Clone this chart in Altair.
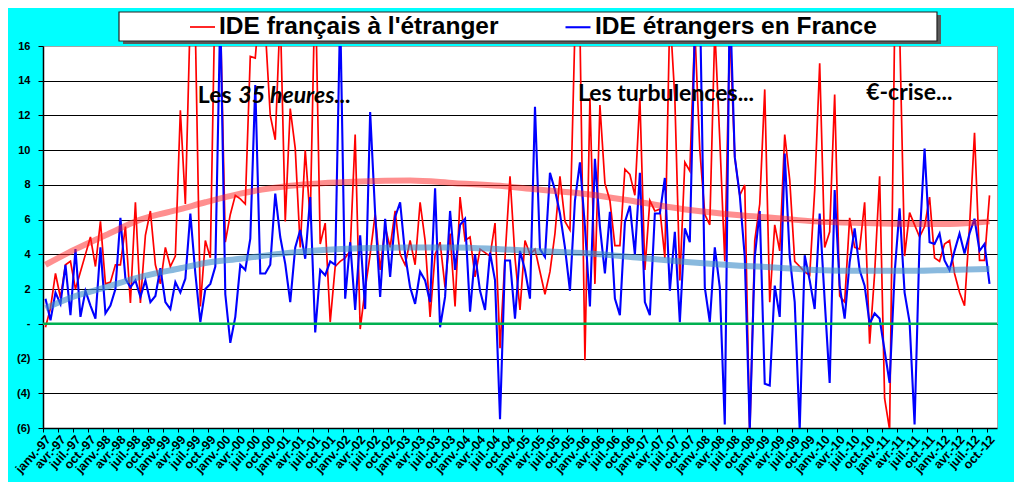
import json
import altair as alt
import pandas as pd

# ---------------- données ----------------
series = ["IDE français à l'étranger", "IDE étrangers en France"]

ide_fr = [
    -0.2, 0.9, 2.9, 1.5, 3.4, 3.6, 2.0, 3.0, 4.0, 5.0, 3.3, 5.9,          # 1997
    2.3, 2.4, 3.4, 3.4, 5.6, 1.2, 7.0, 1.2, 5.1, 6.5, 3.4, 2.3,           # 1998
    4.4, 3.3, 3.9, 12.3, 6.9, 18.0, 17.0, 1.0, 4.8, 3.8, 20.0, 18.0,      # 1999
    4.7, 6.3, 7.4, 7.2, 6.9, 15.4, 15.3, 19.0, 17.0, 12.0, 10.6, 18.0,    # 2000
    5.9, 12.4, 10.1, 4.4, 10.0, 6.0, 20.0, 4.6, 5.8, 0.1, 3.3, 3.6,       # 2001
    3.8, 4.2, 10.9, -0.3, 2.0, 4.0, 6.3, 3.1, 5.6, 4.4, 6.5, 4.0,         # 2002
    3.4, 4.8, 3.4, 7.0, 4.8, 0.4, 4.0, 4.7, 2.1, 5.2, 1.0, 7.3,           # 2003
    4.8, 5.0, 2.7, 4.3, 4.1, 3.9, 5.8, -1.4, 3.8, 8.5, 3.8, 0.8,          # 2004
    4.8, 4.0, 4.3, 3.0, 1.7, 3.0, 5.2, 8.5, 5.9, 5.4, 17.0, 17.0,         # 2005
    -2.1, 13.0, 2.3, 12.6, 8.1, 7.1, 4.5, 4.5, 8.9, 8.6, 7.4, 13.0,       # 2006
    3.1, 7.1, 6.5, 6.6, 3.8, 18.0, 13.0, 2.5, 9.3, 8.8, 17.0, 10.0,       # 2007
    6.3, 5.7, 17.0, 10.6, 3.6, 17.0, 9.6, 7.4, 8.0, -6.5, 4.8, 6.9,       # 2008
    13.5, 1.25, 5.7, 4.2, 10.9, 8.3, 3.6, 3.3, 3.0, 2.8, 7.7, 15.0,       # 2009
    4.4, 5.3, 13.2, 1.6, 1.25, 6.1, 4.4, 4.3, 7.0, -1.15, 2.9, 8.5,       # 2010
    -4.3, -6.1, 17.0, 17.0, 3.9, 6.4, 5.7, 5.0, 5.6, 7.3, 3.8, 3.6,       # 2011
    4.6, 4.8, 2.9, 1.8, 1.05, 5.6, 11.0, 3.65, 3.65, 7.4,                 # 2012
]

ide_etr = [
    1.45, 0.2, 1.8, 1.15, 3.4, 0.5, 4.3, 0.4, 1.9, 1.05, 0.3, 4.4,        # 1997
    0.6, 1.05, 2.0, 6.1, 2.6, 2.1, 2.5, 1.55, 2.5, 1.25, 1.6, 3.2,        # 1998
    1.25, 0.85, 2.4, 1.8, 2.6, 6.35, 2.9, 0.1, 2.0, 2.3, 3.3, 18.0,       # 1999
    1.7, -1.1, 0.4, 3.4, 3.1, 4.9, 13.75, 2.9, 2.9, 3.4, 7.5, 5.0,        # 2000
    3.45, 1.25, 4.4, 5.4, 3.75, 7.3, -0.5, 3.1, 2.8, 3.6, 3.4, 18.0,      # 2001
    1.45, 4.7, 0.8, 5.1, 0.85, 12.2, 6.35, 1.55, 6.05, 2.7, 6.15, 7.0,    # 2002
    4.0, 2.1, 1.15, 3.0, 2.5, 1.25, 7.8, -0.2, 1.55, 6.5, 3.1, 5.7,       # 2003
    6.05, 0.7, 4.0, 1.9, 0.8, 4.1, 2.5, -5.5, 3.65, 3.65, 0.3, 4.2,       # 2004
    3.1, 1.45, 12.5, 4.3, 3.85, 8.7, 7.7, 6.35, 4.4, 1.9, 7.1, 9.3,       # 2005
    5.6, 1.0, 9.5, 5.6, 2.9, 6.45, 1.45, 0.5, 5.85, 6.8, 4.0, 8.7,        # 2006
    1.25, 0.5, 6.35, 6.35, 8.4, 1.9, 5.3, 0.1, 5.5, 4.7, 17.0, 19.0,      # 2007
    2.1, 0.1, 4.4, 2.1, -5.8, 19.0, 9.6, 7.4, 3.85, -6.1, 3.85, 6.5,      # 2008
    -3.45, -3.55, 2.2, 0.4, 9.8, 3.85, 1.25, -6.1, 3.95, 2.5, 0.85, 6.35, # 2009
    1.35, -3.4, 7.7, 2.2, 0.3, 3.55, 5.5, 3.1, 2.2, 0.0, 0.6, 0.3,        # 2010
    -1.55, -3.4, 2.9, 6.65, 1.8, 0.1, -5.8, 4.8, 10.1, 4.7, 4.6, 5.2,     # 2011
    3.65, 3.1, 4.2, 5.2, 4.05, 5.2, 6.05, 4.2, 4.6, 2.3,                  # 2012
]

# courbes de tendance
tendance_mois = [0, 6, 12, 19, 27, 32, 39, 49, 63, 73, 82, 91, 98, 109, 119,
                 129, 139, 146, 154, 164, 174, 181, 189]
tendance_fr = [3.4, 4.3, 5.1, 6.0, 6.6, 7.0, 7.5, 7.95, 8.2, 8.25, 8.1, 7.95,
               7.75, 7.45, 7.0, 6.55, 6.25, 6.1, 5.9, 5.8, 5.75, 5.75, 5.9]
tendance_etr = [0.9, 1.6, 2.1, 2.7, 3.2, 3.5, 3.75, 4.1, 4.35, 4.4, 4.4, 4.3,
                4.2, 4.05, 3.8, 3.55, 3.35, 3.25, 3.1, 3.05, 3.05, 3.1, 3.15]

# étiquettes de l'axe des abscisses
mois_labels = ["janv.", "avr.", "juil.", "oct."]
annees = ["97", "98", "99", "00", "01", "02", "03", "04", "05", "06", "07",
          "08", "09", "10", "11", "12"]
tick_labels = [f"{m}-{a}" for a in annees for m in mois_labels]

# annotations
annot_text = ["Les", "35 heures...", "Les turbulences...", "€-crise..."]
annot_mois = [30.5, 38.6, 106.6, 164.3]
annot_val = [13.1, 13.1, 13.25, 13.3]
annot_italic = [False, True, False, False]

# ---------------- construction ----------------
n = len(ide_fr)
n_cat = n + 1  # axe de janv.-97 à nov.-12

df = pd.DataFrame({
    "mois": list(range(n)) * 2,
    "valeur": ide_fr + ide_etr,
    "serie": [series[0]] * n + [series[1]] * n,
})
df_tr_fr = pd.DataFrame({"mois": tendance_mois, "valeur": tendance_fr})
df_tr_etr = pd.DataFrame({"mois": tendance_mois, "valeur": tendance_etr})
df_zero = pd.DataFrame({"valeur": [0]})
df_annot = pd.DataFrame({"mois": annot_mois, "valeur": annot_val,
                         "texte": annot_text, "italique": annot_italic})
df_one = pd.DataFrame({"a": [0]})

FONT = "Liberation Sans, Arial, sans-serif"

x_enc = alt.X(
    "mois:Q",
    scale=alt.Scale(domain=[-0.5, n_cat - 0.5], nice=False, zero=False),
    axis=alt.Axis(
        title=None,
        values=[3 * k - 0.5 for k in range(len(tick_labels))],
        labelExpr=json.dumps(tick_labels, ensure_ascii=False) + "[round((datum.value + 0.5) / 3)]",
        labelAngle=-48, labelAlign="right", labelBaseline="middle",
        labelFontSize=12.5, labelOffset=5, labelPadding=5, tickSize=4,
        labelOverlap=False, grid=False, labelFlush=False,
    ),
)
y_enc = alt.Y(
    "valeur:Q",
    scale=alt.Scale(domain=[-6, 16], nice=False, zero=False),
    axis=alt.Axis(
        title=None,
        values=list(range(-6, 17, 2)),
        labelExpr="datum.value < 0 ? '(' + abs(datum.value) + ')' : (datum.value == 0 ? '-' : '' + datum.value)",
        labelFontSize=11, tickSize=5, labelPadding=8,
        grid=True, gridColor="#000000", gridWidth=1,
        gridOpacity={"condition": {"test": "datum.value === 16 || datum.value === -6", "value": 0}, "value": 1},
    ),
)

lines = alt.Chart(df).mark_line(clip=True).encode(
    x=x_enc, y=y_enc,
    color=alt.Color(
        "serie:N",
        scale=alt.Scale(domain=series, range=["#FF0000", "#0000FF"]),
        sort=series,
        legend=alt.Legend(
            title=None, orient="none", legendX=146, legendY=-33,
            direction="horizontal", symbolType="stroke", symbolSize=625,
            symbolStrokeWidth=2, labelFont=FONT, labelFontSize=24.5,
            labelFontWeight="bold", labelColor="#000000", labelLimit=0,
            columnPadding=62, labelOffset=3, padding=0, zindex=5,
        ),
    ),
    strokeWidth=alt.StrokeWidth("serie:N", scale=alt.Scale(domain=series, range=[1.7, 2.1]), legend=None),
    detail="serie:N",
)

zero = alt.Chart(df_zero).mark_rule(color="#00B050", strokeWidth=2.5).encode(y=y_enc)

tr_fr = alt.Chart(df_tr_fr).mark_line(
    color="#FF2020", strokeWidth=6, opacity=0.5, interpolate="monotone", clip=True
).encode(x=x_enc, y=y_enc)
tr_etr = alt.Chart(df_tr_etr).mark_line(
    color="#3A8AC8", strokeWidth=6, opacity=0.6, interpolate="monotone", clip=True
).encode(x=x_enc, y=y_enc)

ann_normal = alt.Chart(df_annot).transform_filter("!datum.italique").mark_text(
    font="Lato", fontSize=23, fontWeight="bold", align="left", baseline="middle", color="#000000"
).encode(x=x_enc, y=y_enc, text="texte:N")
ann_ital = alt.Chart(df_annot).transform_filter("datum.italique").mark_text(
    font="Lato", fontSize=23, fontWeight="bold", fontStyle="italic", align="left",
    baseline="middle", color="#000000"
).encode(x=x_enc, y=y_enc, text="texte:N")

# cadre de la légende (ombre + boîte)
shadow = alt.Chart(df_one).mark_rect(fill="#5a5a5a").encode(
    x=alt.value(80), x2=alt.value(898), y=alt.value(-31), y2=alt.value(-2))
box = alt.Chart(df_one).mark_rect(fill="#FFFFFF", stroke="#222222", strokeWidth=1.2).encode(
    x=alt.value(76), x2=alt.value(894), y=alt.value(-34), y2=alt.value(-5))

chart = alt.layer(
    shadow, box, lines, zero, tr_fr, tr_etr, ann_normal, ann_ital
).properties(
    width=954, height=382,
    padding={"left": 35, "top": 38, "right": 17, "bottom": 54},
    autosize=alt.AutoSizeParams(type="none"),
    background="#00FFFF",
).configure_view(
    fill="#FFFFFF", stroke="#a6a6a6", strokeWidth=1
).configure_axis(
    labelFont=FONT, labelFontWeight="bold", labelColor="#000000",
    domainColor="#000000", domainWidth=1.5, tickColor="#000000", tickWidth=1,
)

chart.save("out.html", embed_options={"renderer": "svg", "actions": False})
